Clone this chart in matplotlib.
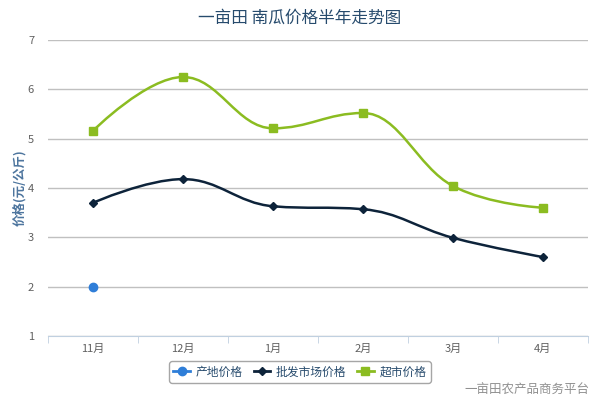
import matplotlib
matplotlib.use('Agg')
import matplotlib.pyplot as plt
from matplotlib.path import Path
from matplotlib.patches import PathPatch
from matplotlib.lines import Line2D
import numpy as np

plt.rcParams['font.family'] = ['Noto Sans CJK SC', 'DejaVu Sans']

# ----------------------------------------------- Dados ---------------------------------------------- #
meses = ['11月', '12月', '1月', '2月', '3月', '4月']
producao = [2.0]
atacado = [3.7, 4.18, 3.63, 3.57, 2.99, 2.6]
supermercado = [5.16, 6.25, 5.21, 5.52, 4.04, 3.6]
nomes = ['产地价格', '批发市场价格', '超市价格']
cores = ['#2f7ed8', '#0d233a', '#8bbc21']


# ------------------------------------------ Spline tipo Highcharts ----------------------------------- #
def spline_path(xs, ys, s=1.5):
    n = len(xs)
    lc = [None] * n
    rc = [None] * n
    for i in range(1, n - 1):
        px, py = xs[i], ys[i]
        lx, ly = xs[i - 1], ys[i - 1]
        nx, ny = xs[i + 1], ys[i + 1]
        lcx = (s * px + lx) / (s + 1)
        lcy = (s * py + ly) / (s + 1)
        rcx = (s * px + nx) / (s + 1)
        rcy = (s * py + ny) / (s + 1)
        corr = (rcy - lcy) * (rcx - px) / (rcx - lcx) + py - rcy
        lcy += corr
        rcy += corr
        if lcy > ly and lcy > py:
            lcy = max(ly, py); rcy = 2 * py - lcy
        elif lcy < ly and lcy < py:
            lcy = min(ly, py); rcy = 2 * py - lcy
        if rcy > ny and rcy > py:
            rcy = max(ny, py); lcy = 2 * py - rcy
        elif rcy < ny and rcy < py:
            rcy = min(ny, py); lcy = 2 * py - rcy
        lc[i] = (lcx, lcy)
        rc[i] = (rcx, rcy)
    verts = [(xs[0], ys[0])]
    codes = [Path.MOVETO]
    for i in range(1, n):
        c1 = rc[i - 1] if rc[i - 1] else (xs[i - 1], ys[i - 1])
        c2 = lc[i] if lc[i] else (xs[i], ys[i])
        verts += [c1, c2, (xs[i], ys[i])]
        codes += [Path.CURVE4] * 3
    return Path(verts, codes)


fig = plt.figure(figsize=(6, 4), dpi=100)
ax = fig.add_axes([0.08, 0.16, 0.90, 0.74])
x = np.arange(len(meses))

ax.set_xlim(-0.5, len(meses) - 0.5)
ax.set_ylim(1, 7)
ax.set_yticks(range(1, 8))
ax.grid(axis='y', color='#c0c0c0', linewidth=1)
ax.set_axisbelow(True)
for lado in ['top', 'right', 'left']:
    ax.spines[lado].set_visible(False)
ax.spines['bottom'].set_color('#c0d0e0')
ax.spines['bottom'].set_zorder(3)

ax.set_xticks(x)
ax.set_xticklabels(meses, fontsize=8, color='#606060')
ax.tick_params(axis='x', which='major', length=0, pad=6)
ax.set_xticks(np.arange(-0.5, len(meses)), minor=True)
ax.tick_params(axis='x', which='minor', length=5, color='#c0d0e0')
ax.tick_params(axis='y', length=0, labelsize=8, labelcolor='#606060', pad=10)

ax.set_ylabel('价格(元/公斤)', fontsize=9, color='#4d759e', fontweight='bold')
ax.yaxis.set_label_coords(-0.04, 0.5)

# series
ax.plot(x[:len(producao)], producao, 'o', color=cores[0], markersize=6, zorder=5)
ax.add_patch(PathPatch(spline_path(x, atacado), fill=False, edgecolor=cores[1], linewidth=1.8, zorder=4))
ax.plot(x, atacado, 'D', color=cores[1], markersize=4, linestyle='none', zorder=5)
ax.add_patch(PathPatch(spline_path(x, supermercado), fill=False, edgecolor=cores[2], linewidth=1.8, zorder=4))
ax.plot(x, supermercado, 's', color=cores[2], markersize=6, linestyle='none', zorder=5)

fig.text(0.5, 0.955, '一亩田 南瓜价格半年走势图', ha='center', va='center', fontsize=12, color='#274b6d')

handles = [
    Line2D([], [], color=cores[0], marker='o', markersize=6, linewidth=2),
    Line2D([], [], color=cores[1], marker='D', markersize=4, linewidth=2),
    Line2D([], [], color=cores[2], marker='s', markersize=6, linewidth=2),
]
leg = fig.legend(handles, nomes, loc='center', bbox_to_anchor=(0.5, 0.07), ncol=3, fontsize=8.5,
                 frameon=True, handlelength=1.4, handletextpad=0.5, columnspacing=0.9,
                 borderpad=0.35, fancybox=True, labelcolor='#274b6d')
leg.get_frame().set_edgecolor('#909090')
leg.get_frame().set_linewidth(1)

fig.text(0.983, 0.025, '一亩田农产品商务平台', ha='right', va='center', fontsize=9, color='#909090')

fig.savefig('out.png', dpi=100)
